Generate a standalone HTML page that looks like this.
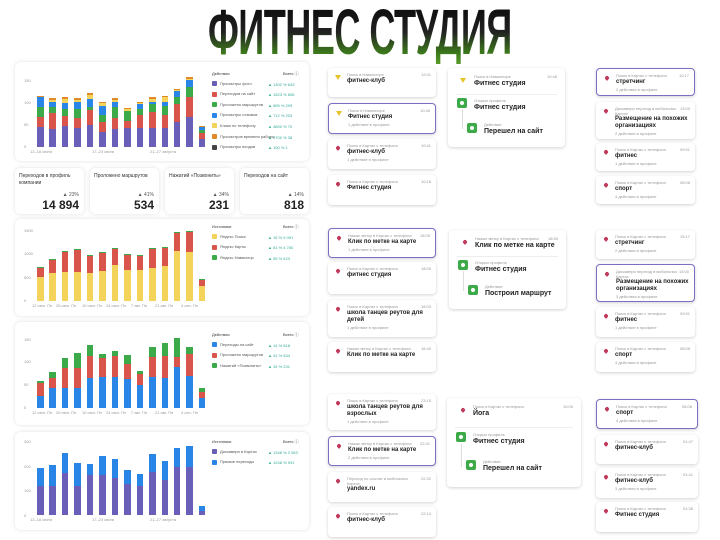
<!DOCTYPE html>
<html><head><meta charset="utf-8"><style>
*{margin:0;padding:0;box-sizing:border-box}
body{width:720px;height:540px;background:#fff;position:relative;overflow:hidden;font-family:"Liberation Sans","DejaVu Sans",sans-serif;color:#222}
.a{position:absolute}
.panel{position:absolute;background:#fff;border-radius:6px;box-shadow:0 0 4px rgba(0,0,0,.12)}
.card{position:absolute;background:#fff;border-radius:4px;box-shadow:0 1px 3px rgba(0,0,0,.18)}
.sel{border:1.5px solid #7a6fc4}
.sm{font-size:4px;color:#999;white-space:nowrap}
.t{font-size:6px;color:#222;white-space:nowrap;font-weight:bold}
.pin{position:absolute;width:4px;height:4px;border-radius:50% 50% 50% 0;transform:rotate(-45deg);background:#c0395a}
.nav{position:absolute;width:0;height:0;border-left:3px solid transparent;border-right:3px solid transparent;border-top:5px solid #e8c22a}
.gi{position:absolute;width:10px;height:10px;border-radius:2px;background:#3daa4a}
.gi:after{content:"";position:absolute;left:3px;top:3px;width:4px;height:4px;border-radius:50%;background:#fff}
.lg{position:absolute;font-size:4px;color:#555;white-space:nowrap}
.sw{display:inline-block;width:5px;height:5px;border-radius:1px;margin-right:3px;vertical-align:middle}
.gv{position:absolute;font-size:4px;color:#3a9;white-space:nowrap}
.tick{position:absolute;font-size:4px;color:#999}
.stat{position:absolute;background:#fff;border-radius:5px;box-shadow:0 0 4px rgba(0,0,0,.13);height:46px;top:168px;width:69px}
.stat .l{position:absolute;left:4px;top:5px;font-size:5px;color:#333;width:62px;line-height:7px}
.stat .p{position:absolute;right:5px;top:24px;font-size:5px;color:#555}
.stat .n{position:absolute;right:5px;top:30px;font-size:12px;font-weight:bold;color:#222}
</style></head><body>
<div class="a" style="left:208px;top:0px;width:304px;height:62px;overflow:visible">
<div id="ttl" style="position:absolute;left:0;top:0;font-family:'Liberation Sans',sans-serif;font-weight:bold;font-size:64px;line-height:64px;white-space:nowrap;transform-origin:0 0;transform:scaleX(0.58);background:linear-gradient(#111 20%,#222 50%,#3f7f1c 85%,#5a9a2a);-webkit-background-clip:text;background-clip:text;color:transparent;letter-spacing:-1px">ФИТНЕС СТУДИЯ</div>
</div>

<div class="panel" style="left:15px;top:62px;width:294px;height:99px"></div>
<div class="panel" style="left:15px;top:219px;width:294px;height:97px"></div>
<div class="panel" style="left:15px;top:322px;width:294px;height:103px"></div>
<div class="panel" style="left:15px;top:432px;width:294px;height:98px"></div>

<div class="stat" style="left:15px"><div class="l">Переходов в профиль компании</div><div class="p">▲ 23%</div><div class="n">14 894</div></div>
<div class="stat" style="left:90px"><div class="l">Проложено маршрутов</div><div class="p">▲ 41%</div><div class="n">534</div></div>
<div class="stat" style="left:165px"><div class="l">Нажатий «Позвонить»</div><div class="p">▲ 34%</div><div class="n">231</div></div>
<div class="stat" style="left:240px"><div class="l">Переходов на сайт</div><div class="p">▲ 14%</div><div class="n">818</div></div>

<div id="root"></div>
<script>
var T=document.getElementById('ttl');T.style.transform='none';var tw=T.offsetWidth;T.style.transform='scaleX('+(304/tw)+')';
var R=document.getElementById('root'),h='';
function div(s,c,t){h+='<div class="'+(c||'a')+'" style="'+s+'">'+(t||'')+'</div>';}
var xs=[];for(var i=0;i<14;i++)xs.push(37+i*12.45);
function chart(base,cols,tops,w){
 for(var i=0;i<14;i++){var prev=base;
  for(var k=0;k<cols.length;k++){var y=tops[k][i];div('left:'+xs[i]+'px;top:'+y+'px;width:6.5px;height:'+(prev-y)+'px;background:'+cols[k]);prev=y;}
 }}
function Z(a,off){return a.map(function(v){return v/3+off});}
chart(146.7,['#6a5fb8','#d9544a','#3daa4a','#2a86e6','#f3d35a','#e08a2a'],
 [Z([382,388,377,384,375,397,388,383,383,383,383,365,352,418],0),
  Z([350,340,348,354,330,365,355,362,345,335,345,312,290,400],0),
  Z([322,322,328,326,320,345,322,332,328,312,318,292,262,390],0),
  Z([292,305,308,305,297,317,305,332,312,305,305,270,240,380],0),
  Z([289,300,297,299,285,310,299,328,309,297,292,269,236,379],0),
  Z([287,294,292,294,280,307,294,325,307,292,288,267,232,378],0)]);
chart(300.7,['#f3d35a','#d9544a','#3daa4a'],
 [Z([185,175,172,170,173,168,150,165,165,160,153,108,112,212],215),
  Z([156,133,109,104,121,111,101,119,121,101,98,51,48,193],215),
  Z([155,132,108,103,120,110,100,118,120,100,97,50,47,192],215)]);
chart(407.7,['#2a86e6','#d9544a','#3daa4a'],
 [Z([542,520,519,519,488,487,485,492,510,487,489,455,482,550],215),
  Z([505,490,460,460,422,428,423,446,476,427,422,425,416,530],215),
  Z([498,472,430,413,390,417,407,420,467,397,385,370,395,518],215)]);
chart(515,['#6a5fb8','#2a86e6'],
 [Z([812,812,775,812,780,780,790,808,812,770,795,757,757,888],215),
  Z([760,750,715,745,748,723,732,766,777,717,738,698,692,872],215)]);
function ticks(x,ys,labs){for(var i=0;i<ys.length;i++)div('left:'+x+'px;top:'+(ys[i]-2)+'px','tick',labs[i]);}
ticks(24,[80,102,124,146],['150','100','50','0']);
ticks(24,[230,253,277,300],['1500','1000','500','0']);
ticks(24,[339,361,384,407],['150','100','50','0']);
ticks(24,[441,466,490,515],['300','200','100','0']);
function xl(y,l){for(var i=0;i<l.length;i++)div('left:'+l[i][0]+'px;top:'+y+'px','tick',l[i][1]);}
xl(149,[[30,'12–18 июня'],[92,'17–23 июля'],[150,'21–27 августа']]);
xl(303,[[32,'12 июн. Пн'],[56,'26 июн. Пн'],[82,'10 июл. Пн'],[106,'24 июл. Пн'],[131,'7 авг. Пн'],[155,'21 авг. Пн'],[181,'4 сен. Пн']]);
xl(410,[[32,'12 июн. Пн'],[56,'26 июн. Пн'],[82,'10 июл. Пн'],[106,'24 июл. Пн'],[131,'7 авг. Пн'],[155,'21 авг. Пн'],[181,'4 сен. Пн']]);
xl(517,[[30,'12–18 июня'],[92,'17–23 июля'],[150,'21–27 августа']]);
function leg(y0,title,rows,step){div('left:212px;top:'+(y0-2)+'px;color:#333','lg',title);div('left:283px;top:'+(y0-2)+'px;color:#333','lg','Всего ⓘ');
 for(var i=0;i<rows.length;i++){var y=y0+(i+1)*step;div('left:212px;top:'+(y-3)+'px','lg','<span class="sw" style="background:'+rows[i][0]+'"></span>'+rows[i][1]);div('left:268px;top:'+(y-2)+'px','gv',rows[i][2]);}}
leg(73,'Действия',[['#6a5fb8','Просмотры фото','▲ 1302 % 643'],['#d9544a','Переходов на сайт','▲ 1523 % 606'],['#3daa4a','Проложено маршрутов','▲ 895 % 209'],['#2a86e6','Просмотры отзывов','▲ 712 % 203'],['#f3d35a','Клики по телефону','▲ 4800 % 70'],['#e08a2a','Просмотров времени работы','▲ 2700 % 38'],['#444','Просмотры входов','▲ 100 % 1']],10.6);
leg(226,'Источники',[['#f3d35a','Яндекс Поиск','▲ 15 % 9 091'],['#d9544a','Яндекс Карты','▲ 81 % 4 760'],['#3daa4a','Яндекс Навигатор','▲ 55 % 423']],10.6);
leg(334,'Действия',[['#2a86e6','Переходы на сайт','▲ 14 % 818'],['#d9544a','Проложено маршрутов','▲ 41 % 534'],['#3daa4a','Нажатий «Позвонить»','▲ 34 % 231']],10.6);
leg(441,'Источники',[['#6a5fb8','Дискавери в Картах','▲ 1348 % 2 063'],['#2a86e6','Прямые переходы','▲ 1248 % 931']],10.6);
function card(x,y,w,hh,ic,sub,title,act,time,sel){
 h+='<div class="card'+(sel?' sel':'')+'" style="left:'+x+'px;top:'+y+'px;width:'+w+'px;height:'+hh+'px">';
 h+=ic=='n'?'<div class="nav" style="left:7px;top:7px"></div>':'<div class="pin" style="left:8px;top:7px"></div>';
 var two=sub.indexOf('|')>=0;
 h+='<div class="a sm" style="left:19px;top:4px">'+sub.replace('|','<br>')+'</div><div class="a sm" style="right:5px;top:4px">'+time+'</div>';
 var tt=title.split('|');var ty=two?14:10;
 for(var i=0;i<tt.length;i++)h+='<div class="a t" style="left:19px;top:'+(ty+i*7)+'px">'+tt[i]+'</div>';
 if(act)h+='<div class="a sm" style="left:19px;top:'+(ty+tt.length*7+1)+'px">'+act+'</div>';
 h+='</div>';}
var K='Поиск в Картах с телефона',N='Поиск в Навигаторе',M='Нажал метку в Картах с телефона',D='Дискавери переход в мобильных|Картах';
card(328,68,108,29,'n',N,'фитнес-клуб','','12:01');
card(328,103,108,31,'n',N,'Фитнес студия','1 действие в профиле','10:46',1);
card(328,139,108,30,'p',K,'фитнес-клуб','1 действие в профиле','10:41');
card(328,175,108,30,'p',K,'Фитнес студия','','10:18');
card(328,228,108,30,'p',M,'Клик по метке на карте','1 действие в профиле','18:05',1);
card(328,262,108,32,'p',K,'фитнес студия','','18:05');
card(328,300,108,37,'p',K,'школа танцев реутов для|детей','1 действие в профиле','18:03');
card(328,342,108,30,'p',M,'Клик по метке на карте','','16:49');
card(328,394,108,36,'p',K,'школа танцев реутов для|взрослых','1 действие в профиле','23:15');
card(328,436,108,30,'p',M,'Клик по метке на карте','2 действия в профиле','22:41',1);
card(328,472,108,30,'p','Переход по ссылке в мобильных|Картах','yandex.ru','','22:32');
card(328,507,108,30,'p',K,'фитнес-клуб','','22:14');
card(596,68,99,28,'p',K,'стретчинг','2 действия в профиле','10:17',1);
card(596,102,99,37,'p',D,'Размещение на похожих|организациях','2 действия в профиле','13:00');
card(596,143,99,28,'p',K,'фитнес','1 действие в профиле','09:51');
card(596,176,99,28,'p',K,'спорт','4 действия в профиле','08:08');
card(596,230,99,29,'p',K,'стретчинг','2 действия в профиле','15:17');
card(596,264,99,38,'p',D,'Размещение на похожих|организациях','3 действия в профиле','13:00',1);
card(596,307,99,30,'p',K,'фитнес','1 действие в профиле','09:51');
card(596,342,99,30,'p',K,'спорт','4 действия в профиле','08:08');
card(596,399,102,30,'p',K,'спорт','4 действия в профиле','08:08',1);
card(596,435,102,29,'p',K,'фитнес-клуб','','01:47');
card(596,468,102,30,'p',K,'фитнес-клуб','3 действия в профиле','01:41');
card(596,502,102,30,'p',K,'Фитнес студия','','01:38');
function mp(x,y,w,hh,sub,title,time,ic,act){
 h+='<div class="card" style="left:'+x+'px;top:'+y+'px;width:'+w+'px;height:'+hh+'px">';
 h+=(ic=='n'?'<div class="nav" style="left:12px;top:10px"></div>':'<div class="pin" style="left:14px;top:10px"></div>');
 h+='<div class="a sm" style="left:26px;top:6px">'+sub+'</div><div class="a sm" style="right:8px;top:6px">'+time+'</div>';
 h+='<div class="a t" style="left:26px;top:12px;font-size:7px">'+title+'</div>';
 h+='<div class="a" style="left:8px;right:8px;top:'+(hh*0.33)+'px;border-top:1px solid #eee"></div>';
 h+='<div class="gi" style="left:9px;top:'+(hh*0.38)+'px"></div><div class="a sm" style="left:26px;top:'+(hh*0.38)+'px">Открыл профиль</div><div class="a t" style="left:26px;top:'+(hh*0.38+6)+'px;font-size:7px">Фитнес студия</div>';
 h+='<div class="a" style="left:14px;top:'+(hh*0.52)+'px;height:'+(hh*0.25)+'px;border-left:1px solid #ddd"></div>';
 h+='<div class="gi" style="left:19px;top:'+(hh*0.7)+'px"></div><div class="a sm" style="left:36px;top:'+(hh*0.68)+'px">Действие</div><div class="a t" style="left:36px;top:'+(hh*0.68+6)+'px;font-size:7px">'+act+'</div>';
 h+='</div>';}
mp(448,68,117,79,N,'Фитнес студия','10:46','n','Перешел на сайт');
mp(449,230,117,79,M,'Клик по метке на карте','18:55','p','Построил маршрут');
mp(447,398,134,89,K,'Йога','10:05','p','Перешел на сайт');
R.innerHTML=h;
</script>
</body></html>
